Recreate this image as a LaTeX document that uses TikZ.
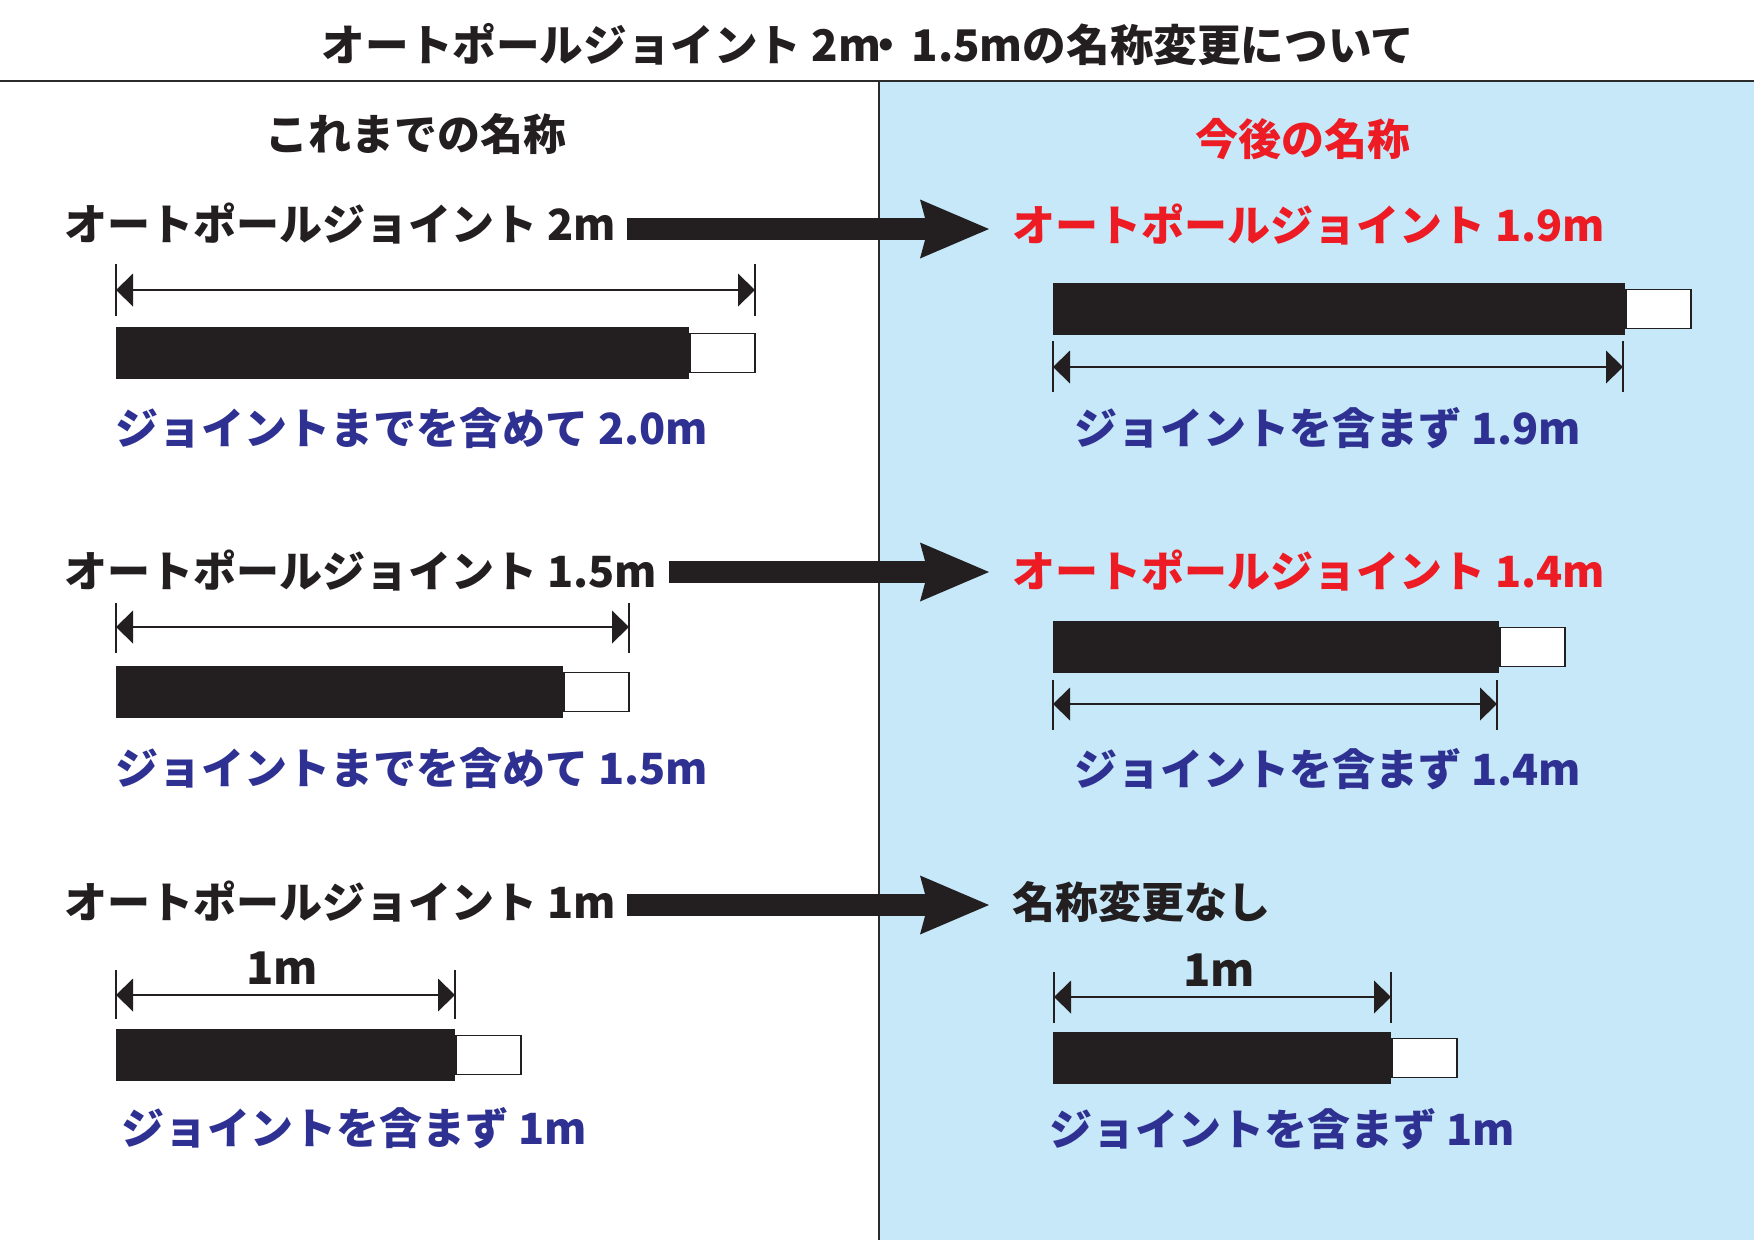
\documentclass[tikz,border=0pt]{standalone}
\usepackage{fontspec}
\setmainfont{Noto Sans CJK JP}
\usetikzlibrary{arrows.meta,calc}
\definecolor{ink}{HTML}{231F20}
\definecolor{navy}{HTML}{2E3192}
\definecolor{redtxt}{HTML}{ED1C24}
\definecolor{skyfill}{HTML}{C6E8F8}
\definecolor{rulecol}{HTML}{2B2B2B}
\newcommand{\jpsize}{\fontsize{43}{52}\selectfont\bfseries}
\tikzset{
  x=1pt, y=-1pt,
  txt/.style={font=\jpsize, inner sep=0pt, anchor=west},
  oldname/.style={txt, text=ink},
  newname/.style={txt, text=redtxt},
  note/.style={txt, text=navy},
  head/.style={font=\jpsize, inner sep=0pt},
  titletxt/.style={font=\fontsize{43.6}{52}\selectfont\bfseries, inner sep=0pt, text=ink},
  dimlbl/.style={font=\fontsize{45}{52}\selectfont\bfseries, inner sep=0pt, text=ink},
  bigarrow/.style={draw=ink, line width=22pt,
    -{Stealth[length=69pt, width=59pt, inset=8pt, line width=0pt]}},
  dimline/.style={draw=ink, line width=2.5pt,
    {Triangle[length=17pt, width=33pt, line width=0pt]}-{Triangle[length=17pt, width=33pt, line width=0pt]}},
  tick/.style={draw=ink, line width=2.5pt},
  pole/.style={fill=ink, inner sep=0pt, minimum height=52pt, anchor=north west},
  jointcap/.style={fill=white, draw=ink, line width=1.5pt, inner sep=0pt,
    minimum width=65pt, minimum height=39pt, anchor=west},
}
\begin{document}
\begin{tikzpicture}
\useasboundingbox (0,0) rectangle (1754,1240);
\fill[white] (0,0) rectangle (1754,1240);
\fill[skyfill] (879,81) rectangle (1754,1240);
\draw[rulecol, line width=2pt] (879,81) -- (879,1240);
\draw[rulecol, line width=2.5pt] (0,81) -- (1754,81);

% title and headers
\node[titletxt] (title) at (868,45) {オートポールジョイント 2m\kern-0.38em・\kern0.08em1.5mの名称変更について};
\node[head, text=ink] (hold) at (416,134) {これまでの名称};
\node[head, text=redtxt] (hnew) at (1303,139) {今後の名称};

% ---------- row 1 ----------
\node[oldname] (l1) at (64,224) {オートポールジョイント 2m};
\node[newname] (r1) at (1012,225) {オートポールジョイント 1.9m};
\draw[bigarrow] ([shift={(11,5)}]l1.east) -- ([shift={(-23,4)}]r1.west);

\draw[tick] (116,264) -- (116,316);
\draw[tick] (755,264) -- (755,316);
\draw[dimline] (116,290) -- (755,290);
\node[pole, minimum width=573pt] (p1l) at (116,327) {};
\node[jointcap] (c1l) at (p1l.east) {};
\node[note] (n1l) at (115,428) {ジョイントまでを含めて 2.0m};

\node[pole, minimum width=572pt] (p1r) at (1053,283) {};
\node[jointcap] (c1r) at (p1r.east) {};
\draw[tick] (1053,341) -- (1053,392);
\draw[tick] (1623,341) -- (1623,392);
\draw[dimline] (1053,367) -- (1623,367);
\node[note] (n1r) at (1074,428) {ジョイントを含まず 1.9m};

% ---------- row 2 ----------
\node[oldname] (l2) at (64,571) {オートポールジョイント 1.5m};
\node[newname] (r2) at (1012,571) {オートポールジョイント 1.4m};
\draw[bigarrow] ([shift={(12,1)}]l2.east) -- ([shift={(-23,1)}]r2.west);

\draw[tick] (116,603) -- (116,653);
\draw[tick] (629,603) -- (629,653);
\draw[dimline] (116,627) -- (629,627);
\node[pole, minimum width=447pt] (p2l) at (116,666) {};
\node[jointcap] (c2l) at (p2l.east) {};
\node[note] (n2l) at (115,768) {ジョイントまでを含めて 1.5m};

\node[pole, minimum width=446pt] (p2r) at (1053,621) {};
\node[jointcap] (c2r) at (p2r.east) {};
\draw[tick] (1053,680) -- (1053,730);
\draw[tick] (1497,680) -- (1497,730);
\draw[dimline] (1053,704) -- (1497,704);
\node[note] (n2r) at (1074,769) {ジョイントを含まず 1.4m};

% ---------- row 3 ----------
\node[oldname] (l3) at (64,902) {オートポールジョイント 1m};
\node[oldname] (r3) at (1012,902) {名称変更なし};
\draw[bigarrow] ([shift={(11,3)}]l3.east) -- ([shift={(-23,3)}]r3.west);

\node[dimlbl] (d3l) at (282,968) {1m};
\draw[tick] (116,970) -- (116,1019);
\draw[tick] (455,970) -- (455,1019);
\draw[dimline] (116,995) -- (455,995);
\node[pole, minimum width=339pt] (p3l) at (116,1029) {};
\node[jointcap] (c3l) at (p3l.east) {};
\node[note] (n3l) at (121,1128) {ジョイントを含まず 1m};

\node[dimlbl] (d3r) at (1219,970) {1m};
\draw[tick] (1054,972) -- (1054,1023);
\draw[tick] (1391,972) -- (1391,1023);
\draw[dimline] (1054,997) -- (1391,997);
\node[pole, minimum width=338pt] (p3r) at (1053,1032) {};
\node[jointcap] (c3r) at (p3r.east) {};
\node[note] (n3r) at (1049,1129) {ジョイントを含まず 1m};
\end{tikzpicture}
\end{document}
